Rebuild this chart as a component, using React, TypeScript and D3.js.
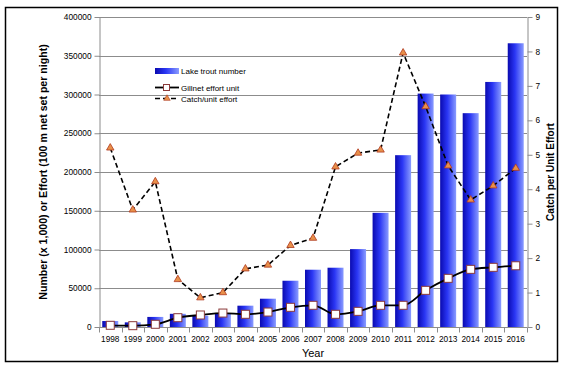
import React, { useEffect, useRef } from "react";
import * as d3 from "d3";

const years = [
  "1998", "1999", "2000", "2001", "2002", "2003", "2004", "2005", "2006", "2007",
  "2008", "2009", "2010", "2011", "2012", "2013", "2014", "2015", "2016",
];
const troutNumber = [
  7700, 6000, 13000, 17000, 14500, 18000, 27500, 36500, 59700, 73900,
  76500, 100500, 147300, 221700, 301200, 300000, 275900, 316200, 366100,
];
const gillnetEffort = [
  2200, 1700, 3500, 12000, 15500, 18000, 16400, 19300, 25400, 28000,
  16400, 20200, 28000, 28000, 47300, 62800, 74400, 77000, 79000,
];
const catchPerEffort = [
  5.2, 3.4, 4.22, 1.38, 0.85, 1.0, 1.69, 1.8, 2.37, 2.58,
  4.65, 5.05, 5.14, 7.96, 6.4, 4.68, 3.69, 4.1, 4.61,
];
const leftTicks = [0, 50000, 100000, 150000, 200000, 250000, 300000, 350000, 400000];
const rightTicks = [0, 1, 2, 3, 4, 5, 6, 7, 8, 9];
const legendLabels = ["Lake trout number", "Gillnet effort unit", "Catch/unit effort"];

const App: React.FC = () => {
  const svgRef = useRef<SVGSVGElement>(null);

  useEffect(() => {
    if (!svgRef.current) return;
    document.body.style.margin = "0";
    const svg = d3.select(svgRef.current);
    svg.selectAll("*").remove();

    const width = 564;
    const height = 369;
    const margin = { top: 17, right: 37, bottom: 42, left: 99 };
    const font = "'Liberation Sans', Arial, sans-serif";

    const x = d3
      .scaleBand()
      .domain(years)
      .range([margin.left, width - margin.right])
      .paddingInner(0.29)
      .paddingOuter(0.145);
    const yLeft = d3.scaleLinear().domain([0, 400000]).range([height - margin.bottom, margin.top]);
    const yRight = d3.scaleLinear().domain([0, 9]).range([height - margin.bottom, margin.top]);

    // gradient for bars
    const defs = svg.append("defs");
    const grad = defs.append("linearGradient").attr("id", "barGrad").attr("x1", "0").attr("x2", "1").attr("y1", "0").attr("y2", "0");
    grad.append("stop").attr("offset", "0%").attr("stop-color", "#0a0ab0");
    grad.append("stop").attr("offset", "45%").attr("stop-color", "#2a36f4");
    grad.append("stop").attr("offset", "100%").attr("stop-color", "#8a9cff");

    svg.append("rect").attr("width", width).attr("height", height).attr("fill", "#fff");

    // outer border
    svg
      .append("rect")
      .attr("x", 5.5)
      .attr("y", 7.5)
      .attr("width", 552)
      .attr("height", 354)
      .attr("fill", "none")
      .attr("stroke", "#000")
      .attr("stroke-width", 1.5);

    // gridlines
    svg
      .append("g")
      .selectAll("line")
      .data(leftTicks.slice(1))
      .enter()
      .append("line")
      .attr("x1", margin.left)
      .attr("x2", width - margin.right)
      .attr("y1", (d) => Math.round(yLeft(d)) + 0.5)
      .attr("y2", (d) => Math.round(yLeft(d)) + 0.5)
      .attr("stroke", "#8c8c8c")
      .attr("stroke-width", 1);

    // bars
    svg
      .append("g")
      .selectAll("rect")
      .data(troutNumber)
      .enter()
      .append("rect")
      .attr("x", (_, i) => x(years[i])!)
      .attr("y", (d) => yLeft(d))
      .attr("width", x.bandwidth())
      .attr("height", (d) => yLeft(0) - yLeft(d))
      .attr("fill", "url(#barGrad)");

    // left axis
    const axisL = svg
      .append("g")
      .attr("transform", `translate(${margin.left + 0.5},0)`)
      .call(d3.axisLeft(yLeft).tickValues(leftTicks).tickSize(5).tickSizeOuter(0).tickPadding(3).tickFormat(d3.format("d")));
    axisL.select(".domain").attr("stroke", "#8c8c8c");
    axisL.selectAll(".tick line").attr("stroke", "#8c8c8c");
    axisL.selectAll("text").attr("font-family", font).attr("font-size", 8.3).attr("fill", "#000");

    // right axis
    const axisR = svg
      .append("g")
      .attr("transform", `translate(${width - margin.right + 0.5},0)`)
      .call(d3.axisRight(yRight).tickValues(rightTicks).tickSize(5).tickSizeOuter(0).tickPadding(3));
    axisR.select(".domain").attr("stroke", "#8c8c8c");
    axisR.selectAll(".tick line").attr("stroke", "#8c8c8c");
    axisR.selectAll("text").attr("font-family", font).attr("font-size", 8.3).attr("fill", "#000");

    // bottom axis
    const base = Math.round(yLeft(0)) + 0.5;
    svg
      .append("line")
      .attr("x1", margin.left)
      .attr("x2", width - margin.right)
      .attr("y1", base)
      .attr("y2", base)
      .attr("stroke", "#8c8c8c");
    const step = x.step();
    const bounds = d3.range(years.length + 1).map((i) => margin.left + i * step);
    svg
      .append("g")
      .selectAll("line")
      .data(bounds)
      .enter()
      .append("line")
      .attr("x1", (d) => Math.round(d) + 0.5)
      .attr("x2", (d) => Math.round(d) + 0.5)
      .attr("y1", base)
      .attr("y2", base + 5)
      .attr("stroke", "#8c8c8c");
    svg
      .append("g")
      .selectAll("text")
      .data(years)
      .enter()
      .append("text")
      .attr("x", (d) => x(d)! + x.bandwidth() / 2)
      .attr("y", base + 14)
      .attr("text-anchor", "middle")
      .attr("font-family", font)
      .attr("font-size", 8.3)
      .text((d) => d);

    // gillnet effort line
    const cx = (i: number) => x(years[i])! + x.bandwidth() / 2;
    const effLine = d3
      .line<number>()
      .x((_, i) => cx(i))
      .y((d) => yLeft(d))
      .curve(d3.curveMonotoneX);
    svg
      .append("path")
      .datum(gillnetEffort)
      .attr("d", effLine)
      .attr("fill", "none")
      .attr("stroke", "#000")
      .attr("stroke-width", 1.8);
    svg
      .append("g")
      .selectAll("rect")
      .data(gillnetEffort)
      .enter()
      .append("rect")
      .attr("x", (_, i) => cx(i) - 4)
      .attr("y", (d) => yLeft(d) - 4)
      .attr("width", 8)
      .attr("height", 8)
      .attr("fill", "#fff")
      .attr("stroke", "#8b3a3a")
      .attr("stroke-width", 1);

    // catch per unit effort
    const cpueLine = d3
      .line<number>()
      .x((_, i) => cx(i))
      .y((d) => yRight(d));
    svg
      .append("path")
      .datum(catchPerEffort)
      .attr("d", cpueLine)
      .attr("fill", "none")
      .attr("stroke", "#000")
      .attr("stroke-width", 1.6)
      .attr("stroke-dasharray", "5,3");
    const tri = d3.symbol().type(d3.symbolTriangle).size(24);
    svg
      .append("g")
      .selectAll("path")
      .data(catchPerEffort)
      .enter()
      .append("path")
      .attr("d", tri)
      .attr("transform", (d, i) => `translate(${cx(i)},${yRight(d)})`)
      .attr("fill", "#e8904a")
      .attr("stroke", "#b03a20")
      .attr("stroke-width", 0.8);

    // legend
    const lg = svg.append("g").attr("transform", "translate(155,0)");
    lg.append("rect").attr("x", 0).attr("y", 68).attr("width", 24).attr("height", 6).attr("fill", "url(#barGrad)");
    lg.append("line").attr("x1", 0).attr("x2", 24).attr("y1", 87.5).attr("y2", 87.5).attr("stroke", "#000").attr("stroke-width", 1.8);
    lg.append("rect").attr("x", 8.5).attr("y", 84.5).attr("width", 6).attr("height", 6).attr("fill", "#fff").attr("stroke", "#8b3a3a");
    lg.append("line").attr("x1", 0).attr("x2", 24).attr("y1", 98.5).attr("y2", 98.5).attr("stroke", "#000").attr("stroke-width", 1.6).attr("stroke-dasharray", "5,3");
    lg.append("path").attr("d", d3.symbol().type(d3.symbolTriangle).size(18)).attr("transform", "translate(12,98.5)").attr("fill", "#e8904a").attr("stroke", "#b03a20").attr("stroke-width", 0.6);
    lg.selectAll("text.lab")
      .data(legendLabels)
      .enter()
      .append("text")
      .attr("class", "lab")
      .attr("x", 26)
      .attr("y", (_, i) => [73.8, 90.8, 101.8][i])
      .attr("font-family", font)
      .attr("font-size", 8)
      .text((d) => d);

    // axis titles
    svg
      .append("text")
      .attr("transform", `translate(47,${(margin.top + height - margin.bottom) / 2}) rotate(-90)`)
      .attr("text-anchor", "middle")
      .attr("font-family", font)
      .attr("font-weight", "bold")
      .attr("font-size", 10.6)
      .text("Number (x 1,000) or Effort (100 m net set per night)");
    svg
      .append("text")
      .attr("transform", `translate(554,${(margin.top + height - margin.bottom) / 2}) rotate(-90)`)
      .attr("text-anchor", "middle")
      .attr("font-family", font)
      .attr("font-weight", "bold")
      .attr("font-size", 10)
      .text("Catch per Unit Effort");
    svg
      .append("text")
      .attr("x", (margin.left + width - margin.right) / 2)
      .attr("y", 357)
      .attr("text-anchor", "middle")
      .attr("font-family", font)
      .attr("font-size", 11)
      .text("Year");
  }, []);

  return <svg ref={svgRef} width={564} height={369} style={{ display: "block" }}></svg>;
};

export default App;
